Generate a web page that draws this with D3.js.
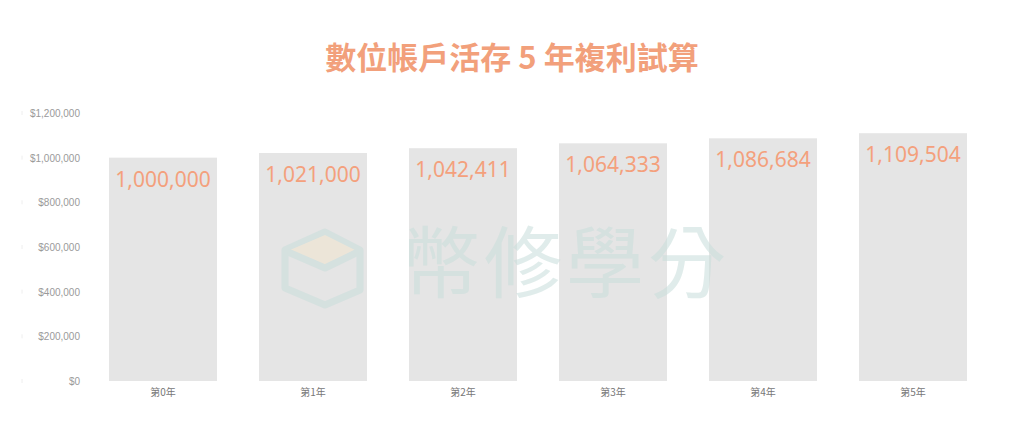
<!DOCTYPE html>
<html><head><meta charset="utf-8">
<script src="https://cdn.jsdelivr.net/npm/d3@7/dist/d3.min.js"></script>
<style>body{margin:0;background:#fff}svg{display:block}</style>
</head><body><svg id="c" width="1028" height="440"></svg>
<script>
const title = "數位帳戶活存 5 年複利試算";
const categories = ["第0年","第1年","第2年","第3年","第4年","第5年"];
const values = [1000000,1021000,1042411,1064333,1086684,1109504];
const yTicks = [0,200000,400000,600000,800000,1000000,1200000];
const watermark = "幣修學分";

const svg = d3.select("#c");
const x = d3.scaleBand().domain(categories).range([88,988]).paddingInner(0.28).paddingOuter(0.14);
const y = d3.scaleLinear().domain([0,1200000]).range([381,113]);

svg.append("text").attr("x",512).attr("y",69).attr("text-anchor","middle")
  .attr("font-family","'Noto Sans CJK TC'").attr("font-weight",700).attr("font-size",31)
  .attr("fill","#f2a07b").text(title);

const yAxis = d3.axisLeft(y).tickValues(yTicks).tickSize(0).tickPadding(0)
  .tickFormat(d=>"$"+d3.format(",")(d));
const ga = svg.append("g").attr("transform","translate(80,0)").call(yAxis);
ga.select(".domain").remove();
ga.selectAll("text").attr("font-family","'Liberation Sans', Arial").attr("font-size",10)
  .attr("fill","#9a9a9a").attr("dy","0.35em");

svg.append("g").selectAll("rect").data(values).join("rect")
  .attr("x",(d,i)=>x(categories[i])).attr("width",x.bandwidth())
  .attr("y",d=>y(d)).attr("height",d=>y(0)-y(d)).attr("fill","#e5e5e5");

svg.append("g").selectAll("text").data(values).join("text")
  .attr("x",(d,i)=>x(categories[i])+x.bandwidth()/2).attr("y",d=>y(d)+29)
  .attr("text-anchor","middle").attr("font-family","'Noto Sans'").attr("font-size",21)
  .attr("fill","#f4a07c").text(d=>d3.format(",")(d));

const xAxis = d3.axisBottom(x).tickSize(0).tickPadding(0);
const gx = svg.append("g").attr("transform","translate(0,389)").call(xAxis);
gx.select(".domain").remove();
gx.selectAll("text").attr("font-family","'Noto Sans CJK TC'").attr("font-size",10)
  .attr("fill","#777").attr("dy","0.71em");

// faint left guide marks
svg.append("g").selectAll("line").data(yTicks).join("line")
  .attr("x1",22).attr("x2",22).attr("y1",d=>y(d)-2).attr("y2",d=>y(d)+2)
  .attr("stroke","#eee");

// watermark
const wm = svg.append("g").attr("opacity",0.55);
wm.append("path").attr("d","M285,250 L325,232 L360,250 L360,290 L325,305 L285,288 Z")
  .attr("fill","none").attr("stroke","#c8dedb").attr("stroke-width",7).attr("stroke-linejoin","round");
wm.append("path").attr("d","M290,250 L325,235 L355,250 L325,265 Z").attr("fill","#f3e6cf");
wm.append("path").attr("d","M288,252 L325,268 L358,252").attr("fill","none")
  .attr("stroke","#c8dedb").attr("stroke-width",7).attr("stroke-linejoin","round");
wm.append("text").attr("x",402).attr("y",292).attr("font-family","'Noto Sans CJK TC'")
  .attr("font-size",78).attr("letter-spacing",4).attr("fill","#c8dedb").text(watermark);
</script></body></html>
